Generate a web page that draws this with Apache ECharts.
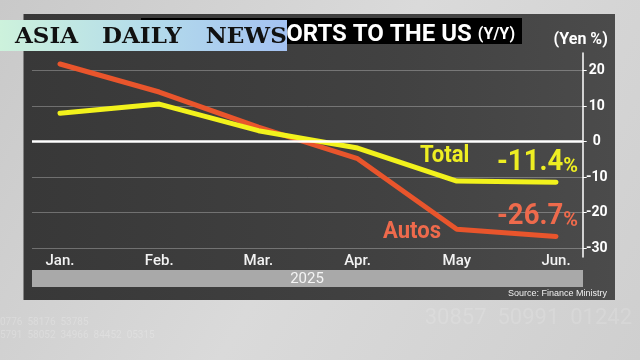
<!DOCTYPE html>
<html>
<head>
<meta charset="utf-8">
<script src="https://cdn.jsdelivr.net/npm/echarts@6/dist/echarts.min.js"></script>
<style>
html,body{margin:0;padding:0;background:#d2d2d2;}
#c{width:640px;height:360px;}
</style>
</head>
<body>
<div id="c"></div>
<script>
// ---- data ----
var months = ['Jan.', 'Feb.', 'Mar.', 'Apr.', 'May', 'Jun.'];
var totalVals = [8.0, 10.6, 3.1, -1.8, -11.1, -11.4];
var autosVals = [21.9, 14.0, 4.1, -4.8, -24.7, -26.7];
var yTicks = [-30, -20, -10, 0, 10, 20];
var yearLabel = '2025';

var SANS = "Roboto,'Liberation Sans',sans-serif";
var chart = echarts.init(document.getElementById('c'), null, {renderer: 'canvas'});

var option = {
  animation: false,
  backgroundColor: {
    type: 'linear', x: 0, y: 0, x2: 1, y2: 1,
    colorStops: [{offset: 0, color: '#c9c9c9'}, {offset: 0.5, color: '#dadada'}, {offset: 1, color: '#cfcfcf'}]
  },
  graphic: [
    // dark panel
    {type: 'rect', z: -10, shape: {x: 23.5, y: 14, width: 591.5, height: 286},
      style: {fill: {type: 'linear', x: 0, y: 0, x2: 1, y2: 0,
        colorStops: [{offset: 0, color: '#383838'}, {offset: 0.6, color: '#414141'}, {offset: 1, color: '#4b4b4b'}]}}},
    // faint background digits
    {type: 'text', z: -11, style: {x: 632, y: 318, text: '30857  50991  01242', align: 'right', verticalAlign: 'middle',
      font: "22px " + SANS, fill: 'rgba(255,255,255,0.14)'}},
    {type: 'text', z: -11, style: {x: 0, y: 322, text: '0776  58176  53785', align: 'left', verticalAlign: 'middle',
      font: "10px " + SANS, fill: 'rgba(255,255,255,0.22)'}},
    {type: 'text', z: -11, style: {x: 0, y: 335, text: '5791  58052  34966  84452  05315', align: 'left', verticalAlign: 'middle',
      font: "10px " + SANS, fill: 'rgba(255,255,255,0.22)'}},
    // title box
    {type: 'rect', z: 5, shape: {x: 141, y: 18, width: 381, height: 26}, style: {fill: '#000'}},
    {type: 'text', z: 6, style: {x: 515, y: 35, align: 'right', verticalAlign: 'middle',
      text: '{a|EXPORTS TO THE US }{b|(Y/Y)}',
      rich: {a: {font: "bold 24px " + SANS, fill: '#fff'}, b: {font: "bold 16px " + SANS, fill: '#fff'}}}},
    // logo
    {type: 'rect', z: 10, shape: {x: 0, y: 20, width: 287, height: 31},
      style: {fill: {type: 'linear', x: 0, y: 0, x2: 1, y2: 0,
        colorStops: [{offset: 0, color: '#cdf2dc'}, {offset: 0.5, color: '#b4dcea'}, {offset: 1, color: '#a4c2f2'}]}}},
    {type: 'text', z: 11, style: {x: 15, y: 37, align: 'left', verticalAlign: 'middle',
      text: 'ASIA   DAILY   NEWS', font: "bold 23px 'DejaVu Serif',serif", fill: '#111'}},
    // year band
    {type: 'rect', z: 1, shape: {x: 32, y: 270, width: 551, height: 17}, style: {fill: '#a9a9a9'}},
    {type: 'text', z: 2, style: {x: 307, y: 279, text: yearLabel, align: 'center', verticalAlign: 'middle',
      font: "15px " + SANS, fill: '#f4f4f4'}},
    // source
    {type: 'text', z: 2, style: {x: 607, y: 294, text: 'Source: Finance Ministry', align: 'right', verticalAlign: 'middle',
      font: "9px 'Liberation Sans',sans-serif", fill: '#f0f0f0'}},
    // annotations
    {type: 'text', z: 20, x: 420, y: 168, scaleX: 0.92, style: {x: 0, y: 0, text: 'Total', align: 'left', verticalAlign: 'bottom',
      font: "bold 24px " + SANS, fill: '#eeee22'}},
    {type: 'text', z: 20, x: 578, y: 177, scaleX: 0.95, style: {x: 0, y: 0, align: 'right', verticalAlign: 'bottom',
      text: '{a|-11.4}{b|%}',
      rich: {a: {font: "bold 29px " + SANS, fill: '#eeee22', verticalAlign: 'bottom'},
             b: {font: "bold 21px " + SANS, fill: '#eeee22', verticalAlign: 'bottom'}}}},
    {type: 'text', z: 20, x: 578, y: 231, scaleX: 0.95, style: {x: 0, y: 0, align: 'right', verticalAlign: 'bottom',
      text: '{a|-26.7}{b|%}',
      rich: {a: {font: "bold 29px " + SANS, fill: '#ee6a4c', verticalAlign: 'bottom'},
             b: {font: "bold 21px " + SANS, fill: '#ee6a4c', verticalAlign: 'bottom'}}}},
    {type: 'text', z: 20, x: 383, y: 244, scaleX: 0.92, style: {x: 0, y: 0, text: 'Autos', align: 'left', verticalAlign: 'bottom',
      font: "bold 24px " + SANS, fill: '#ee6a4c'}}
  ],
  grid: [
    {left: 32, right: 57.3, top: 53, height: 204},
    {left: 60, right: 84, top: 53, height: 204}
  ],
  xAxis: [
    {gridIndex: 0, type: 'value', min: 0, max: 1, show: false},
    {gridIndex: 1, type: 'category', data: months, boundaryGap: false,
      axisLine: {show: false}, axisTick: {show: false}, splitLine: {show: false},
      axisLabel: {color: '#f2f2f2', fontSize: 15, fontWeight: 500, fontFamily: SANS, margin: -3}}
  ],
  yAxis: [
    {gridIndex: 0, type: 'value', position: 'right', min: -32.5, max: 25,
      name: '(Yen %)', nameLocation: 'end', nameGap: 5,
      nameTextStyle: {color: '#fff', fontSize: 16, fontWeight: 'bold', fontFamily: SANS, align: 'center', padding: [0, 0, 0, -4]},
      axisLine: {show: true, onZero: false, lineStyle: {color: '#fff', width: 1.5}},
      axisTick: {show: true, inside: false, length: 4, customValues: yTicks, lineStyle: {color: '#fff', width: 1}},
      axisLabel: {customValues: yTicks, color: '#fff', fontSize: 14, fontWeight: 'bold', fontFamily: SANS, margin: 14, align: 'center'},
      splitLine: {show: true, lineStyle: {color: 'rgba(255,255,255,0.28)', width: 1}}},
    {gridIndex: 1, type: 'value', min: -32.5, max: 25, show: false, splitLine: {show: false}}
  ],
  series: [
    {type: 'line', xAxisIndex: 0, yAxisIndex: 0, data: [], silent: true,
      markLine: {symbol: 'none', silent: true, label: {show: false},
        lineStyle: {color: '#fff', width: 2.5, type: 'solid'}, data: [{yAxis: 0}]}},
    {name: 'Total', type: 'line', xAxisIndex: 1, yAxisIndex: 1, data: totalVals, symbol: 'none', clip: false,
      lineStyle: {color: '#f2f21c', width: 5, cap: 'round', join: 'round'}, z: 4},
    {name: 'Autos', type: 'line', xAxisIndex: 1, yAxisIndex: 1, data: autosVals, symbol: 'none', clip: false,
      lineStyle: {color: '#e9552c', width: 5, cap: 'round', join: 'round'}, z: 3}
  ]
};
chart.setOption(option);
</script>
</body>
</html>
